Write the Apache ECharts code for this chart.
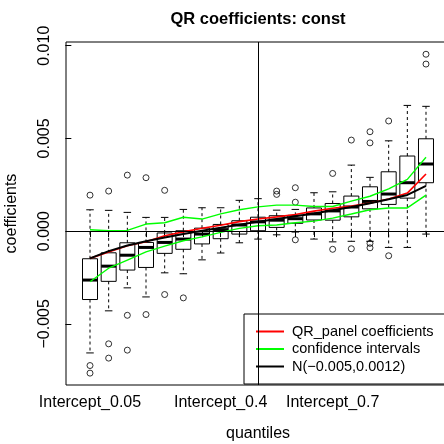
<!DOCTYPE html>
<html>
<head>
<meta charset="utf-8">
<script src="https://cdn.jsdelivr.net/npm/echarts@6/dist/echarts.min.js"></script>
<style>html,body{margin:0;padding:0;background:#fff;}#c{width:444px;height:444px;}</style>
</head>
<body>
<div id="c"></div>
<script>
// ---- data ----
const quantileLabels = ['Intercept_0.05','Intercept_0.1','Intercept_0.15','Intercept_0.2','Intercept_0.25','Intercept_0.3','Intercept_0.35','Intercept_0.4','Intercept_0.45','Intercept_0.5','Intercept_0.55','Intercept_0.6','Intercept_0.65','Intercept_0.7','Intercept_0.75','Intercept_0.8','Intercept_0.85','Intercept_0.9','Intercept_0.95'];
const shownLabels = ['Intercept_0.05','Intercept_0.4','Intercept_0.7'];
const referenceQuantile = 'Intercept_0.5';
const yTicks = [-0.005, 0, 0.005, 0.010];

const whiskerLow = [-0.00657,-0.00430,-0.00306,-0.00355,-0.00225,-0.00230,-0.00155,-0.00118,-0.00063,-0.00043,-0.00020,-0.00005,-0.00043,-0.00058,-0.00055,-0.00055,-0.00088,-0.00088,-0.00016];
const lowerQuartile = [-0.00369,-0.00271,-0.00210,-0.00196,-0.00120,-0.00098,-0.00069,-0.00041,-0.00016,0.00002,0.00020,0.00042,0.00060,0.00059,0.00077,0.00120,0.00144,0.00178,0.00261];
const medianVal = [-0.00264,-0.00189,-0.00130,-0.00088,-0.00061,-0.00043,-0.00016,0.00008,0.00033,0.00050,0.00059,0.00067,0.00093,0.00109,0.00130,0.00160,0.00200,0.00261,0.00362];
const upperQuartile = [-0.00149,-0.00117,-0.00063,-0.00061,-0.00010,0.00002,0.00016,0.00036,0.00056,0.00075,0.00083,0.00085,0.00125,0.00149,0.00189,0.00239,0.00320,0.00405,0.00498];
const whiskerHigh = [0.00115,0.00112,0.00101,0.00074,0.00074,0.00117,0.00126,0.00126,0.00166,0.00175,0.00113,0.00117,0.00207,0.00212,0.00356,0.00290,0.00487,0.00678,0.00673];
// outliers: [quantile index (1-based), value]
const outliers = [
  [1,0.00194],[1,-0.00725],[1,-0.00766],
  [2,0.00216],[2,-0.00608],[2,-0.00685],
  [3,0.00302],[3,-0.00454],[3,-0.00642],
  [4,0.00288],[4,-0.00450],
  [5,0.00220],[5,-0.00342],
  [6,-0.00360],
  [11,0.00216],[11,0.00198],
  [12,0.00234],[12,0.00156],[12,-0.00047],
  [14,0.00311],[14,-0.00098],
  [15,0.00491],[15,-0.00095],
  [16,0.00536],[16,0.00476],[16,-0.00066],[16,-0.00090],
  [17,0.00594],[17,-0.00133],
  [19,0.00954],[19,0.00901]
];
const qrPanel = [-0.00147,-0.00113,-0.00079,-0.00057,-0.00025,-0.00004,0.00015,0.00032,0.00051,0.00065,0.00077,0.00090,0.00108,0.00123,0.00135,0.00151,0.00173,0.00205,0.00308];
const ciUpper = [0.00007,0.00002,0.00004,0.00038,0.00045,0.00075,0.00065,0.00093,0.00115,0.00131,0.00140,0.00140,0.00133,0.00133,0.00162,0.00188,0.00228,0.00279,0.00398];
const ciLower = [-0.00273,-0.00200,-0.00156,-0.00112,-0.00081,-0.00052,-0.00031,-0.00007,0.00015,0.00029,0.00033,0.00045,0.00054,0.00070,0.00092,0.00115,0.00125,0.00125,0.00194];
const normalLine = [-0.00147,-0.00108,-0.00078,-0.00055,-0.00035,-0.00015,0.00002,0.00018,0.00035,0.00050,0.00065,0.00080,0.00095,0.00112,0.00130,0.00150,0.00172,0.00195,0.00244];

const seriesNames = ['QR_panel coefficients','confidence intervals','N(\u22120.005,0.0012)'];

// ---- build ----
const positions = quantileLabels.map((_, i) => i + 1);
const boxData = positions.map((p, i) => [p, whiskerLow[i], lowerQuartile[i], medianVal[i], upperQuartile[i], whiskerHigh[i]]);
const toPairs = arr => arr.map((v, i) => [positions[i], v]);
const refPos = quantileLabels.indexOf(referenceQuantile) + 1;
const labelPos = shownLabels.map(l => quantileLabels.indexOf(l) + 1);
const FONT = 'Liberation Sans';

function fmtY(v) {
  const s = Math.abs(v).toFixed(3);
  return (v < 0 ? '\u2212' : '') + s;
}

const chart = echarts.init(document.getElementById('c'), null, {renderer: 'canvas'});
chart.setOption({
  animation: false,
  backgroundColor: '#fff',
  textStyle: {fontFamily: FONT, color: '#000'},
  title: {
    text: 'QR coefficients: const',
    left: 253, top: 6, textAlign: 'center',
    textStyle: {fontFamily: FONT, fontWeight: 'bold', fontSize: 16.5, color: '#000'}
  },
  grid: {left: 66, top: 42, width: 384, height: 343, show: true, borderColor: '#000', borderWidth: 1,
    backgroundColor: 'transparent', outerBoundsMode: 'none', containLabel: false},
  legend: {
    orient: 'vertical', left: 244, top: 314,
    data: seriesNames,
    icon: 'rect',
    itemWidth: 28, itemHeight: 2, itemGap: 0.5,
    padding: [9, 12, 9, 12],
    borderColor: '#000', borderWidth: 1,
    textStyle: {fontFamily: FONT, fontSize: 14.5, color: '#000', padding: [0, 0, 0, 3], lineHeight: 17},
    selectedMode: false
  },
  xAxis: {
    type: 'value', min: -0.286, max: 20.286,
    name: 'quantiles', nameLocation: 'middle', nameGap: 41,
    nameTextStyle: {fontFamily: FONT, fontSize: 16, color: '#000'},
    axisLine: {show: false},
    splitLine: {show: false},
    axisTick: {show: true, inside: false, length: 6, lineStyle: {color: '#000'}, customValues: positions},
    axisLabel: {show: true, margin: 10, fontFamily: FONT, fontSize: 16, color: '#000', customValues: labelPos,
      formatter: v => quantileLabels[Math.round(v) - 1]}
  },
  yAxis: {
    type: 'value', min: -0.0083, max: 0.0102,
    name: 'coefficients', nameLocation: 'middle', nameGap: 46, nameRotate: 90,
    nameTextStyle: {fontFamily: FONT, fontSize: 16, color: '#000'},
    axisLine: {show: false},
    splitLine: {show: false},
    axisTick: {show: true, inside: false, length: 6, lineStyle: {color: '#000'}, customValues: yTicks},
    axisLabel: {show: true, rotate: 90, margin: 13, fontFamily: FONT, fontSize: 16, color: '#000', customValues: yTicks,
      formatter: v => fmtY(v)}
  },
  series: [
    {
      type: 'custom', name: 'boxes',
      data: boxData,
      encode: {x: 0, y: [1, 2, 3, 4, 5]},
      z: 2,
      renderItem: function (params, api) {
        const x = api.value(0);
        const lo = api.coord([x, api.value(1)]);
        const q1 = api.coord([x, api.value(2)]);
        const md = api.coord([x, api.value(3)]);
        const q3 = api.coord([x, api.value(4)]);
        const hi = api.coord([x, api.value(5)]);
        const cx = lo[0], hw = 7.5, cw = 3.75;
        const dash = {stroke: '#000', lineWidth: 1, lineDash: [3, 3], fill: null};
        const solid = {stroke: '#000', lineWidth: 1, fill: null};
        return {type: 'group', children: [
          {type: 'line', shape: {x1: cx, y1: q3[1], x2: cx, y2: hi[1]}, style: dash},
          {type: 'line', shape: {x1: cx, y1: q1[1], x2: cx, y2: lo[1]}, style: dash},
          {type: 'line', shape: {x1: cx - cw, y1: hi[1], x2: cx + cw, y2: hi[1]}, style: solid},
          {type: 'line', shape: {x1: cx - cw, y1: lo[1], x2: cx + cw, y2: lo[1]}, style: solid},
          {type: 'rect', shape: {x: cx - hw, y: q3[1], width: 2 * hw, height: q1[1] - q3[1]}, style: {stroke: '#000', lineWidth: 1, fill: 'rgba(0,0,0,0)'}},
          {type: 'line', shape: {x1: cx - hw, y1: md[1], x2: cx + hw, y2: md[1]}, style: {stroke: '#000', lineWidth: 3}}
        ]};
      }
    },
    {
      type: 'scatter', name: 'outliers', data: outliers, symbol: 'circle', symbolSize: 6, z: 3,
      itemStyle: {color: 'rgba(255,255,255,0)', borderColor: '#000', borderWidth: 1},
      markLine: {
        silent: true, symbol: 'none', label: {show: false},
        lineStyle: {color: '#000', width: 1, type: 'solid'},
        data: [{yAxis: 0}, {xAxis: refPos}]
      }
    },
    {type: 'line', name: seriesNames[0], data: toPairs(qrPanel), symbol: 'none', z: 4,
      lineStyle: {color: '#FF0000', width: 1.6}, itemStyle: {color: '#FF0000'}},
    {type: 'line', name: seriesNames[1], data: toPairs(ciUpper), symbol: 'none', z: 4,
      lineStyle: {color: '#00FF00', width: 1.4}, itemStyle: {color: '#00FF00'}},
    {type: 'line', name: seriesNames[1], data: toPairs(ciLower), symbol: 'none', z: 4,
      lineStyle: {color: '#00FF00', width: 1.4}, itemStyle: {color: '#00FF00'}},
    {type: 'line', name: seriesNames[2], data: toPairs(normalLine), symbol: 'none', z: 4,
      lineStyle: {color: '#000', width: 2}, itemStyle: {color: '#000'}}
  ]
});
</script>
</body>
</html>
